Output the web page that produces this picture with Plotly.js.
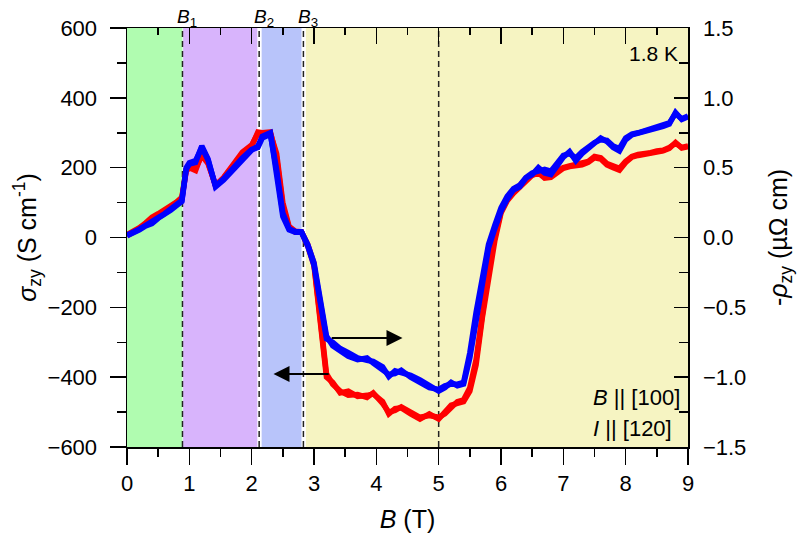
<!DOCTYPE html>
<html>
<head>
<meta charset="utf-8">
<script src="https://cdn.plot.ly/plotly-3.0.1.min.js"></script>
<style>html,body{margin:0;padding:0;background:#fff;}#chart{width:797px;height:540px;}</style>
</head>
<body>
<div id="chart"></div>
<script>
// Magnetic field (T)
var fieldB = [0, 0.1, 0.2, 0.3, 0.4, 0.5, 0.6, 0.7, 0.8, 0.88, 0.95, 1.0, 1.1, 1.2, 1.3, 1.42, 1.55, 1.7, 1.85, 2.0, 2.1, 2.17, 2.3, 2.4, 2.5, 2.6, 2.7, 2.8, 2.9, 3.0, 3.1, 3.2, 3.3, 3.42, 3.55, 3.7, 3.85, 3.95, 4.1, 4.2, 4.3, 4.4, 4.55, 4.7, 4.85, 5.0, 5.1, 5.2, 5.3, 5.4, 5.5, 5.6, 5.7, 5.8, 5.9, 6.0, 6.1, 6.2, 6.3, 6.4, 6.5, 6.6, 6.7, 6.8, 6.9, 7.0, 7.1, 7.2, 7.3, 7.4, 7.5, 7.6, 7.7, 7.8, 7.9, 8.0, 8.1, 8.2, 8.3, 8.4, 8.5, 8.6, 8.7, 8.8, 8.9, 9.0];

// sigma_zy (S cm^-1), red curve, two sweeps
var sigmaRedUp = [5, 14, 25, 40, 55, 65, 75, 88, 100, 112, 190, 200, 192, 240, 215, 148, 170, 205, 240, 262, 302, 300, 302, 230, 90, 28, 15, 15, -25, -80, -250, -400, -415, -445, -440, -455, -452, -448, -470, -505, -490, -488, -505, -520, -505, -520, -500, -480, -475, -470, -440, -365, -230, -110, -10, 70, 105, 127, 145, 165, 178, 185, 170, 172, 185, 198, 203, 205, 208, 215, 228, 225, 208, 200, 193, 215, 230, 235, 238, 240, 245, 248, 255, 272, 256, 260];
var sigmaRedDown = [8, 16, 28, 42, 58, 68, 78, 90, 102, 115, 195, 205, 198, 235, 212, 150, 172, 208, 244, 265, 298, 296, 298, 240, 100, 32, 18, 16, -20, -75, -240, -390, -420, -440, -452, -450, -458, -445, -475, -500, -495, -485, -500, -515, -510, -515, -505, -485, -470, -465, -430, -350, -210, -95, 0, 75, 110, 130, 150, 168, 182, 190, 175, 178, 190, 200, 205, 210, 212, 218, 232, 228, 212, 205, 198, 218, 232, 238, 240, 243, 248, 250, 258, 270, 258, 262];

// -rho_zy expressed on the sigma scale (blue curve), two sweeps
var sigmaBlueUp = [5, 12, 22, 33, 40, 55, 65, 78, 92, 103, 195, 210, 215, 262, 225, 145, 165, 195, 225, 250, 262, 290, 300, 180, 60, 22, 15, 15, -25, -80, -180, -290, -300, -318, -330, -345, -352, -355, -370, -398, -382, -386, -395, -408, -425, -440, -430, -415, -425, -420, -345, -235, -130, -30, 25, 75, 110, 136, 145, 170, 180, 200, 185, 180, 205, 230, 246, 220, 240, 255, 270, 285, 275, 258, 248, 280, 294, 298, 302, 308, 312, 318, 325, 358, 338, 346];
var sigmaBlueDown = [7, 14, 24, 35, 44, 57, 68, 80, 95, 106, 200, 214, 220, 258, 222, 148, 168, 198, 228, 252, 258, 285, 296, 195, 70, 25, 17, 16, -20, -72, -170, -282, -310, -325, -340, -350, -345, -360, -378, -392, -390, -380, -400, -415, -430, -435, -425, -420, -420, -415, -330, -215, -110, -20, 35, 85, 118, 140, 150, 172, 185, 190, 195, 190, 210, 235, 240, 228, 245, 258, 272, 280, 278, 262, 255, 285, 296, 300, 305, 310, 315, 320, 328, 355, 340, 348];

// critical fields B1, B2, B3 and the extra dashed marker
var criticalFields = [0.89, 2.12, 2.83];
var markerField = 5.0;
var criticalLabels = ['<i>B</i><sub>1</sub>', '<i>B</i><sub>2</sub>', '<i>B</i><sub>3</sub>'];

var redColor = '#ff0000', blueColor = '#0000ff';
var traces = [
  {x: fieldB, y: sigmaRedUp, mode: 'lines', line: {color: redColor, width: 5.5}, hoverinfo: 'skip'},
  {x: fieldB, y: sigmaRedDown, mode: 'lines', line: {color: redColor, width: 5.5}, hoverinfo: 'skip'},
  {x: fieldB, y: sigmaBlueUp, mode: 'lines', line: {color: blueColor, width: 5.5}, hoverinfo: 'skip'},
  {x: fieldB, y: sigmaBlueDown, mode: 'lines', line: {color: blueColor, width: 5.5}, hoverinfo: 'skip'},
  {x: [0, 9], y: [0, 0], xaxis: 'x2', yaxis: 'y2', mode: 'lines', line: {width: 0}, opacity: 0, hoverinfo: 'skip', showlegend: false}
];

var bandEdges = [0, criticalFields[0], criticalFields[1], criticalFields[2], 9];
var bandColors = ['#b0fcb0', '#d8b4fc', '#b8c4fa', '#f6f4c2'];
var shapes = [];
for (var i = 0; i < 4; i++) {
  var gapL = i === 0 ? 0 : (i === 1 ? 0.01 : 0.04);
  var gapR = i === 3 ? 0 : (i === 0 ? 0.0 : 0.03);
  shapes.push({type: 'rect', xref: 'x', yref: 'paper', x0: bandEdges[i] + gapL, x1: bandEdges[i + 1] - gapR, y0: 0, y1: 1,
    fillcolor: bandColors[i], line: {width: 0}, layer: 'below'});
}
criticalFields.concat([markerField]).forEach(function (b) {
  shapes.push({type: 'line', xref: 'x', yref: 'paper', x0: b, x1: b, y0: 0, y1: 1,
    line: {color: '#222', width: 1.5, dash: '6px,4px'}, layer: 'below'});
});

var annotations = [];
criticalFields.forEach(function (b, k) {
  annotations.push({x: b, y: 1, xref: 'x', yref: 'paper', text: criticalLabels[k], showarrow: false,
    yanchor: 'bottom', xanchor: 'center', xshift: 5, yshift: -4, font: {size: 19, color: '#000'}});
});
annotations.push({x: 0.985, y: 0.94, xref: 'paper', yref: 'paper', text: '1.8 K', showarrow: false,
  xanchor: 'right', yanchor: 'middle', font: {size: 21, color: '#000'}});
annotations.push({x: 0.99, y: 0.118, xref: 'paper', yref: 'paper', text: '<i>B</i> || [100]', showarrow: false,
  xanchor: 'right', yanchor: 'middle', font: {size: 22, color: '#000'}});
annotations.push({x: 0.975, y: 0.045, xref: 'paper', yref: 'paper', text: '<i>I</i> || [120]', showarrow: false,
  xanchor: 'right', yanchor: 'middle', font: {size: 22, color: '#000'}});
annotations.push({x: 4.42, y: -288, ax: 3.26, ay: -288, xref: 'x', yref: 'y', axref: 'x', ayref: 'y', text: '',
  showarrow: true, arrowhead: 2, arrowsize: 1.6, arrowwidth: 2, arrowcolor: '#000'});
annotations.push({x: 2.35, y: -391, ax: 3.26, ay: -391, xref: 'x', yref: 'y', axref: 'x', ayref: 'y', text: '',
  showarrow: true, arrowhead: 2, arrowsize: 1.6, arrowwidth: 2, arrowcolor: '#000'});

var font = {family: 'Liberation Sans, Arial, sans-serif', color: '#000', size: 22};
var layout = {
  width: 797, height: 540,
  margin: {l: 127, r: 109, t: 28, b: 93},
  paper_bgcolor: '#fff', plot_bgcolor: '#fff',
  showlegend: false,
  font: font,
  xaxis: {range: [0, 9], dtick: 1, ticks: 'outside', ticklen: 16, tickwidth: 1.5, tickcolor: '#000',
    minor: {dtick: 0.5, ticks: 'outside', ticklen: 8, tickwidth: 1.5, tickcolor: '#000'},
    showline: true, linecolor: '#000', linewidth: 1.5, showgrid: false, zeroline: false,
    tickfont: {size: 22}, title: {text: '<i>B</i> (T)', font: {size: 25}, standoff: 15}},
  xaxis2: {range: [0, 9], overlaying: 'x', side: 'top', dtick: 1, ticks: 'inside', ticklen: 16, tickwidth: 1.5,
    minor: {dtick: 0.5, ticks: 'inside', ticklen: 7, tickwidth: 1.5, tickcolor: '#000'},
    tickcolor: '#000', showticklabels: false, showline: true, linecolor: '#000', linewidth: 1.5,
    showgrid: false, zeroline: false},
  yaxis: {range: [-600, 600], dtick: 200, ticks: 'outside', ticklen: 16, tickwidth: 1.5, tickcolor: '#000',
    minor: {dtick: 100, ticks: 'outside', ticklen: 9, tickwidth: 1.5, tickcolor: '#000'},
    ticklabelstandoff: 8,
    showline: true, linecolor: '#000', linewidth: 1.5, showgrid: false, zeroline: false,
    tickfont: {size: 22}, title: {text: '<i>σ</i><sub>zy</sub> (S cm<sup>-1</sup>)', font: {size: 25}, standoff: 4}},
  yaxis2: {range: [-1.5, 1.5], overlaying: 'y', side: 'right', dtick: 0.5, tickformat: '.1f',
    ticks: 'inside', ticklen: 14, tickwidth: 1.5, tickcolor: '#000',
    minor: {dtick: 0.25, ticks: 'inside', ticklen: 9, tickwidth: 1.5, tickcolor: '#000'},
    ticklabelstandoff: 9,
    showline: true, linecolor: '#000', linewidth: 1.5, showgrid: false, zeroline: false,
    tickfont: {size: 22}, title: {text: '-<i>ρ</i><sub>zy</sub> (µΩ cm)', font: {size: 25}, standoff: 24}},
  shapes: shapes,
  annotations: annotations
};
Plotly.newPlot('chart', traces, layout, {displayModeBar: false, staticPlot: true});
</script>
</body>
</html>
